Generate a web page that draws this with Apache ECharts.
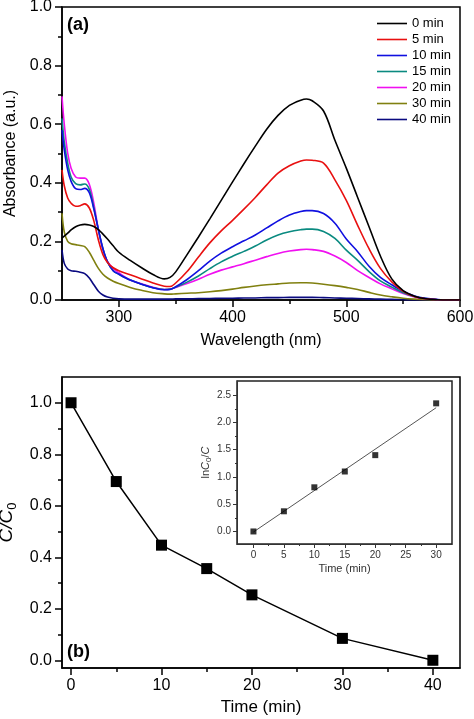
<!DOCTYPE html>
<html><head><meta charset="utf-8">
<script src="https://cdn.jsdelivr.net/npm/echarts@6/dist/echarts.min.js"></script>
<style>html,body{margin:0;padding:0;background:#fff}#c{width:474px;height:719px}</style>
</head><body><div id="c"></div>
<script>
// ---------- Panel (a): UV-vis spectra ----------
const wavelength = [250,252,255,258,262,266,270,274,278,282,286,290,295,300,310,320,330,340,345,350,360,370,380,390,400,410,420,430,440,450,460,465,470,480,490,500,510,520,530,540,550,560,570,580,590,600];
const abs0  = [0.211,0.218,0.228,0.239,0.25,0.256,0.258,0.256,0.251,0.24,0.225,0.208,0.185,0.163,0.135,0.11,0.087,0.072,0.077,0.096,0.155,0.215,0.277,0.34,0.403,0.465,0.525,0.583,0.63,0.664,0.682,0.686,0.68,0.645,0.545,0.45,0.35,0.25,0.15,0.072,0.032,0.013,0.004,0.001,0,0];
const abs5  = [0.444,0.39,0.348,0.33,0.32,0.322,0.328,0.314,0.27,0.205,0.155,0.128,0.11,0.1,0.086,0.072,0.058,0.047,0.046,0.058,0.097,0.147,0.195,0.236,0.272,0.31,0.35,0.393,0.433,0.458,0.474,0.478,0.477,0.467,0.41,0.34,0.255,0.175,0.108,0.062,0.03,0.012,0.004,0.001,0,0];
const abs10 = [0.58,0.512,0.444,0.405,0.38,0.377,0.381,0.366,0.31,0.24,0.175,0.13,0.1,0.088,0.068,0.054,0.042,0.035,0.036,0.045,0.07,0.1,0.133,0.16,0.182,0.202,0.222,0.246,0.27,0.29,0.302,0.305,0.305,0.295,0.262,0.208,0.165,0.115,0.077,0.052,0.03,0.014,0.006,0.002,0,0];
const abs15 = [0.62,0.54,0.467,0.42,0.397,0.393,0.396,0.378,0.315,0.24,0.175,0.13,0.1,0.088,0.068,0.054,0.042,0.036,0.037,0.044,0.061,0.082,0.107,0.13,0.149,0.166,0.184,0.205,0.222,0.233,0.24,0.242,0.242,0.234,0.21,0.17,0.135,0.097,0.065,0.044,0.025,0.012,0.005,0.001,0,0];
const abs20 = [0.695,0.6,0.501,0.45,0.42,0.416,0.416,0.395,0.33,0.24,0.172,0.132,0.108,0.093,0.068,0.055,0.043,0.036,0.037,0.043,0.056,0.071,0.088,0.102,0.113,0.124,0.136,0.148,0.159,0.167,0.172,0.173,0.172,0.166,0.15,0.128,0.1,0.077,0.055,0.038,0.022,0.01,0.004,0.001,0,0];
const abs30 = [0.296,0.232,0.2,0.192,0.189,0.186,0.182,0.163,0.135,0.108,0.088,0.075,0.064,0.056,0.043,0.033,0.025,0.021,0.02,0.021,0.023,0.025,0.028,0.032,0.037,0.043,0.048,0.052,0.055,0.058,0.059,0.059,0.058,0.054,0.049,0.043,0.036,0.026,0.017,0.011,0.006,0.003,0.001,0,0,0];
const abs40 = [0.171,0.125,0.106,0.1,0.098,0.095,0.09,0.075,0.052,0.03,0.017,0.01,0.006,0.004,0.003,0.003,0.003,0.003,0.003,0.004,0.004,0.005,0.005,0.006,0.006,0.007,0.007,0.008,0.008,0.009,0.009,0.009,0.009,0.008,0.007,0.006,0.005,0.004,0.003,0.002,0.001,0,0,0,0,0];
const spectraNames  = ['0 min','5 min','10 min','15 min','20 min','30 min','40 min'];
const spectraValues = [abs0, abs5, abs10, abs15, abs20, abs30, abs40];
const spectraColors = ['#000000','#e81010','#1010e0','#0a8a80','#f010f0','#808010','#0a0a80'];
const topXMajor = [300,400,500,600];
const topXMinor = [350,450,550];
const topYMajor = [0,0.2,0.4,0.6,0.8,1.0];
const topYMinor = [0.1,0.3,0.5,0.7,0.9];

// ---------- Panel (b): C/C0 vs time ----------
const timeMin = [0,5,10,15,20,30,40];
const cRatio  = [1.0,0.694,0.447,0.356,0.254,0.085,0.0];
const botXMajor = [0,10,20,30,40];
const botXMinor = [5,15,25,35];
const botYMajor = [0,0.2,0.4,0.6,0.8,1.0];
const botYMinor = [0.1,0.3,0.5,0.7,0.9];

// ---------- Inset: ln(C0/C) vs time ----------
const insetTime = [0,5,10,15,20,30];
const lnRatio   = [0,0.37,0.81,1.10,1.40,2.35];
const fitTime   = [0,30];
const fitLn     = [-0.01,2.27];
const inXMajor = [0,5,10,15,20,25,30];
const inXMinor = [2.5,7.5,12.5,17.5,22.5,27.5];
const inYMajor = [0,0.5,1.0,1.5,2.0,2.5];
const inYMinor = [0.25,0.75,1.25,1.75,2.25];

const FONT = '"Liberation Sans", Arial, sans-serif';
const zip = (xs, ys) => xs.map((x, i) => [x, ys[i]]);

function axis(o) {
  const a = {
    type: 'value', gridIndex: o.grid, min: o.min, max: o.max, position: o.pos,
    splitLine: {show: false},
    axisLine: {show: o.line !== false, onZero: false, lineStyle: {color: o.color || '#000', width: o.lw || 1.5}},
    axisTick: {show: true, inside: false, customValues: o.ticks, length: o.tl, lineStyle: {color: o.color || '#000', width: o.tw || 1.5}},
    axisLabel: o.labels ? {show: true, customValues: o.ticks, fontSize: o.fs, fontFamily: FONT, color: o.color || '#000', margin: o.margin,
                           formatter: o.fmt || (v => String(v))} : {show: false}
  };
  if (o.name) {
    a.name = o.name; a.nameLocation = 'middle'; a.nameGap = o.nameGap;
    a.nameTextStyle = Object.assign({fontSize: o.nfs, fontFamily: FONT, color: '#000'}, o.nameStyle || {});
  }
  return a;
}

const chart = echarts.init(document.getElementById('c'), null, {renderer: 'canvas'});

const series = spectraNames.map((n, i) => ({
  name: n, type: 'line', xAxisIndex: 0, yAxisIndex: 0, data: zip(wavelength, spectraValues[i]),
  smooth: 0.35, symbol: 'none', showSymbol: false,
  lineStyle: {color: spectraColors[i], width: 1.6}, itemStyle: {color: spectraColors[i]}, z: 3 + (7 - i)
}));
series.push({
  name: 'C/C0', type: 'line', xAxisIndex: 2, yAxisIndex: 2, data: zip(timeMin, cRatio),
  symbol: 'rect', symbolSize: 11, lineStyle: {color: '#000', width: 1.5}, itemStyle: {color: '#000'}
});
series.push({
  name: 'fit', type: 'line', xAxisIndex: 4, yAxisIndex: 4, data: zip(fitTime, fitLn),
  symbol: 'none', lineStyle: {color: '#555', width: 1}, z: 20
});
series.push({
  name: 'ln', type: 'scatter', xAxisIndex: 4, yAxisIndex: 4, data: zip(insetTime, lnRatio),
  symbol: 'rect', symbolSize: 6, itemStyle: {color: '#000'}, z: 21
});

const option = {
  animation: false,
  backgroundColor: '#fff',
  textStyle: {fontFamily: FONT},
  grid: [
    {left: 62, top: 7, width: 398, height: 293, show: true, borderColor: '#000', borderWidth: 1.5, backgroundColor: 'transparent', outerBoundsMode: 'none', containLabel: false},
    {left: 62, top: 377, width: 398, height: 291, show: true, borderColor: '#000', borderWidth: 1.5, backgroundColor: 'transparent', outerBoundsMode: 'none', containLabel: false},
    {left: 237, top: 381, width: 215, height: 163, show: true, borderColor: '#222', borderWidth: 1.5, backgroundColor: 'transparent', outerBoundsMode: 'none', containLabel: false}
  ],
  legend: {
    data: spectraNames, orient: 'vertical', left: 377, top: 17, padding: 0,
    icon: 'rect', itemWidth: 30, itemHeight: 1.6, itemGap: 3,
    textStyle: {fontSize: 13, fontFamily: FONT, color: '#000', lineHeight: 13}
  },
  xAxis: [
    axis({grid: 0, min: 250, max: 600, pos: 'bottom', ticks: topXMajor, tl: 7, labels: true, fs: 16, margin: 10,
          name: 'Wavelength (nm)', nameGap: 33, nfs: 16}),
    axis({grid: 0, min: 250, max: 600, pos: 'bottom', ticks: topXMinor, tl: 4, line: false}),
    axis({grid: 1, min: -1, max: 43, pos: 'bottom', ticks: botXMajor, tl: 7, labels: true, fs: 16, margin: 10,
          name: 'Time (min)', nameGap: 31, nfs: 17}),
    axis({grid: 1, min: -1, max: 43, pos: 'bottom', ticks: botXMinor, tl: 4, line: false}),
    axis({grid: 2, min: -2.7, max: 32.6, pos: 'bottom', ticks: inXMajor, tl: 4, tw: 1, lw: 1, color: '#333', labels: true, fs: 10, margin: 6,
          name: 'Time (min)', nameGap: 19, nfs: 11, nameStyle: {color: '#333'}}),
    axis({grid: 2, min: -2.7, max: 32.6, pos: 'bottom', ticks: inXMinor, tl: 2, tw: 1, color: '#333', line: false})
  ],
  yAxis: [
    axis({grid: 0, min: 0, max: 1, pos: 'left', ticks: topYMajor, tl: 7, labels: true, fs: 16, margin: 10, fmt: v => v.toFixed(1),
          name: 'Absorbance (a.u.)', nameGap: 42, nfs: 16}),
    axis({grid: 0, min: 0, max: 1, pos: 'left', ticks: topYMinor, tl: 4, line: false}),
    axis({grid: 1, min: -0.03, max: 1.1, pos: 'left', ticks: botYMajor, tl: 7, labels: true, fs: 16, margin: 10, fmt: v => v.toFixed(1),
          name: '{i|C/C}{s|0}', nameGap: 40, nfs: 19,
          nameStyle: {rich: {i: {fontSize: 19, fontStyle: 'italic', fontFamily: FONT, color: '#000', lineHeight: 24, verticalAlign: 'middle'},
                             s: {fontSize: 13, fontFamily: FONT, color: '#000', lineHeight: 13, verticalAlign: 'bottom'}}}}),
    axis({grid: 1, min: -0.03, max: 1.1, pos: 'left', ticks: botYMinor, tl: 4, line: false}),
    axis({grid: 2, min: -0.23, max: 2.76, pos: 'left', ticks: inYMajor, tl: 4, tw: 1, lw: 1, color: '#333', labels: true, fs: 10, margin: 6, fmt: v => v.toFixed(1),
          name: '{a|ln}{i|C}{s|0}{a|/}{i|C}', nameGap: 22, nfs: 11,
          nameStyle: {rich: {a: {fontSize: 11, fontFamily: FONT, color: '#333', lineHeight: 14},
                             i: {fontSize: 11, fontStyle: 'italic', fontFamily: FONT, color: '#333', lineHeight: 14},
                             s: {fontSize: 8, fontFamily: FONT, color: '#333', lineHeight: 8, verticalAlign: 'bottom'}}}}),
    axis({grid: 2, min: -0.23, max: 2.76, pos: 'left', ticks: inYMinor, tl: 2, tw: 1, color: '#333', line: false})
  ],
  graphic: [
    {type: 'text', left: 67, top: 16, z: 100, style: {text: '(a)', font: 'bold 18px ' + FONT, fill: '#000'}},
    {type: 'text', left: 67, top: 643, z: 100, style: {text: '(b)', font: 'bold 18px ' + FONT, fill: '#000'}}
  ],
  series: series
};
chart.setOption(option);
</script>
</body></html>
